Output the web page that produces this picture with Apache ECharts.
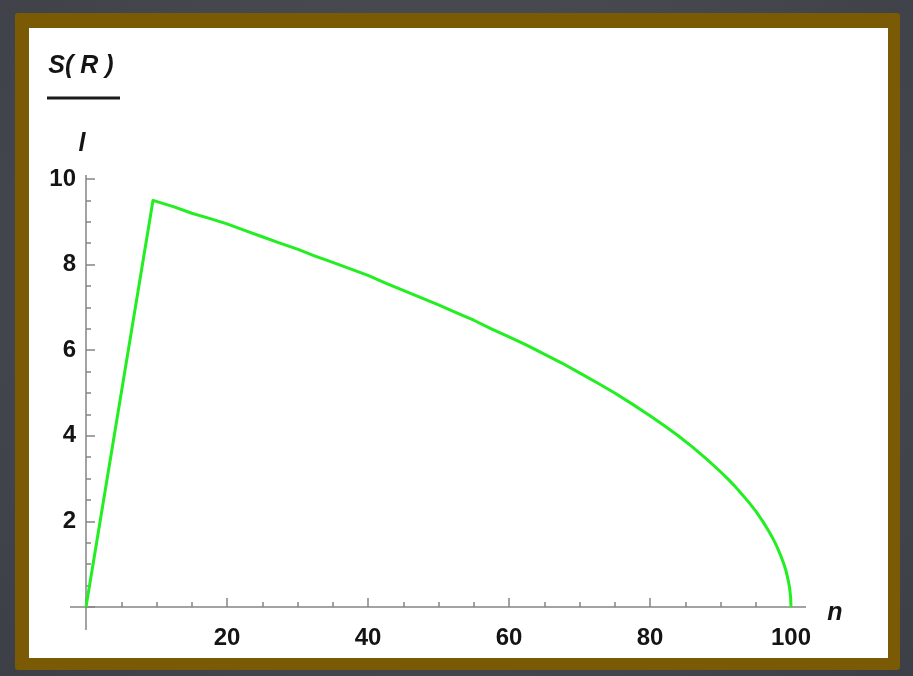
<!DOCTYPE html>
<html>
<head>
<meta charset="utf-8">
<script src="https://cdn.jsdelivr.net/npm/echarts@6/dist/echarts.min.js"></script>
<style>
  html, body { margin: 0; padding: 0; width: 913px; height: 676px; overflow: hidden; }
  body { background: radial-gradient(ellipse at 50% 40%, #4d5058 0%, #44474e 60%, #3c3f46 100%); position: relative; }
  #frame { position: absolute; left: 15px; top: 13px; width: 885px; height: 657px; background: #7a5a05; border-radius: 3px; }
  #paper { position: absolute; left: 29px; top: 28px; width: 859px; height: 630px; background: #ffffff; }
  #chart { position: absolute; left: 0; top: 0; width: 913px; height: 676px; }
</style>
</head>
<body>
<div id="frame"></div>
<div id="paper"></div>
<div id="chart"></div>
<script>
// Data
const nValues = [0, 9.5, 12.5, 15, 17.5, 20, 22.5, 25, 27.5, 30, 32.5, 35, 37.5, 40, 42.5, 45, 47.5, 50, 52.5, 55, 57.5, 60, 62.5, 65, 67.5, 70, 72.5, 75, 77.5, 80, 82, 84, 86, 88, 90, 91, 92, 93, 94, 95, 96, 97, 97.5, 98, 98.5, 99, 99.3, 99.6, 99.8, 99.95, 100];
const lValues = [0, 9.5, 9.35, 9.2, 9.08, 8.95, 8.8, 8.65, 8.5, 8.36, 8.2, 8.05, 7.9, 7.75, 7.57, 7.4, 7.23, 7.06, 6.88, 6.7, 6.5, 6.31, 6.12, 5.91, 5.7, 5.47, 5.24, 5.0, 4.74, 4.47, 4.24, 4.0, 3.74, 3.46, 3.16, 3.0, 2.83, 2.64, 2.45, 2.24, 2.0, 1.73, 1.58, 1.41, 1.22, 1.0, 0.84, 0.63, 0.45, 0.22, 0];
const xTickLabels = [20, 40, 60, 80, 100];
const yTickLabels = [2, 4, 6, 8, 10];

const axisColor = '#858585';
const font = 'Liberation Sans';
const labelStyle = { fontFamily: font, fontWeight: 'bold', fontSize: 24, color: '#141414' };

const chart = echarts.init(document.getElementById('chart'), null, { renderer: 'canvas' });
chart.setOption({
  animation: false,
  backgroundColor: 'transparent',
  grid: { left: 86, right: 122, top: 179, bottom: 69 },
  xAxis: {
    type: 'value', min: 0, max: 100, interval: 20,
    axisLine: { show: false },
    axisTick: { show: true, inside: true, length: 9, lineStyle: { color: axisColor, width: 1.5 } },
    minorTick: { show: true, splitNumber: 4, length: 5, lineStyle: { color: axisColor, width: 1.5 } },
    splitLine: { show: false }, minorSplitLine: { show: false },
    axisLabel: Object.assign({ margin: 19, formatter: v => xTickLabels.includes(v) ? String(v) : '' }, labelStyle)
  },
  yAxis: {
    type: 'value', min: 0, max: 10, interval: 2,
    axisLine: { show: false },
    axisTick: { show: true, inside: true, length: 9, lineStyle: { color: axisColor, width: 1.5 } },
    minorTick: { show: true, splitNumber: 4, length: 5, lineStyle: { color: axisColor, width: 1.5 } },
    splitLine: { show: false }, minorSplitLine: { show: false },
    axisLabel: Object.assign({ margin: 10, formatter: v => yTickLabels.includes(v) ? String(v) : '' }, labelStyle)
  },
  series: [{
    type: 'line',
    data: nValues.map((n, i) => [n, lValues[i]]),
    showSymbol: false,
    clip: false,
    lineStyle: { color: '#22ee22', width: 3, join: 'round' }
  }]
});

const p0 = chart.convertToPixel({ gridIndex: 0 }, [0, 0]);
const pX = chart.convertToPixel({ gridIndex: 0 }, [100, 0]);
const pY = chart.convertToPixel({ gridIndex: 0 }, [0, 10]);
const nameStyle = { fontFamily: font, fontWeight: 'bold', fontStyle: 'italic', fontSize: 25, fill: '#141414', align: 'center', verticalAlign: 'middle' };

chart.setOption({
  graphic: [
    { type: 'line', z: 1, shape: { x1: p0[0] - 16, y1: p0[1], x2: pX[0] + 15, y2: p0[1] }, style: { stroke: axisColor, lineWidth: 1.5 } },
    { type: 'line', z: 1, shape: { x1: p0[0], y1: p0[1] + 23, x2: p0[0], y2: pY[1] - 4 }, style: { stroke: axisColor, lineWidth: 1.5 } },
    { type: 'text', x: pX[0] + 44, y: p0[1] + 6, style: Object.assign({ text: 'n' }, nameStyle) },
    { type: 'text', x: p0[0] - 5, y: pY[1] - 113, style: Object.assign({ text: 'S( R )' }, nameStyle) },
    { type: 'line', shape: { x1: p0[0] - 39, y1: pY[1] - 81, x2: p0[0] + 34, y2: pY[1] - 81 }, style: { stroke: '#1a1a1a', lineWidth: 3 } },
    { type: 'text', x: p0[0] - 4, y: pY[1] - 35, style: Object.assign({ text: 'l' }, nameStyle) }
  ]
});
</script>
</body>
</html>
